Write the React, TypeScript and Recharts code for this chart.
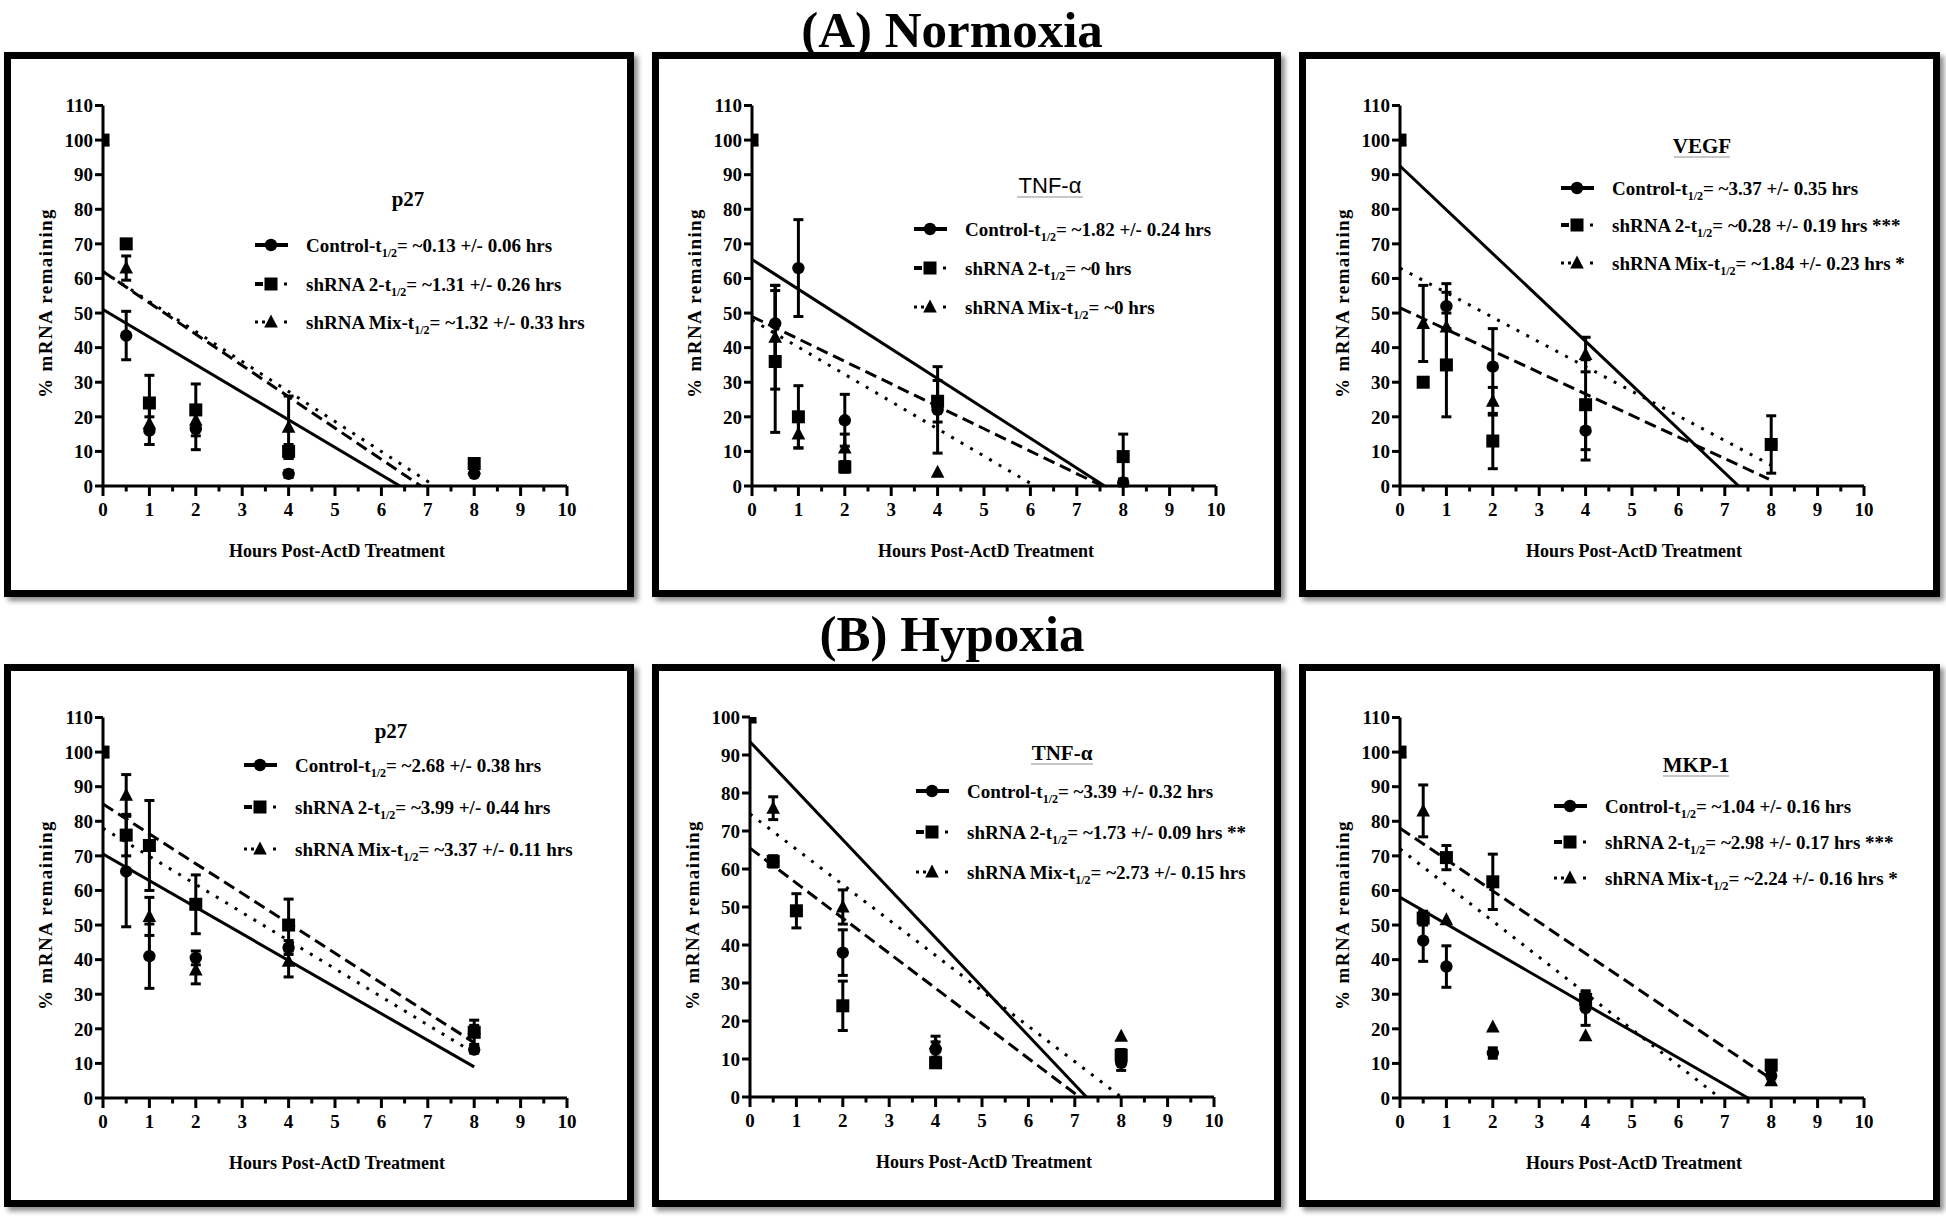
import React from "react";
import { ComposedChart, ErrorBar, Line, Scatter, XAxis, YAxis } from "recharts";

const hours = [0, 0.5, 1, 2, 4, 8];
const xTicks = [0, 0.5, 1, 1.5, 2, 2.5, 3, 3.5, 4, 4.5, 5, 5.5, 6, 6.5, 7, 7.5, 8, 8.5, 9, 9.5, 10];
const yTicks110 = [0, 10, 20, 30, 40, 50, 60, 70, 80, 90, 100, 110];
const yTicks100 = [0, 10, 20, 30, 40, 50, 60, 70, 80, 90, 100];
const seriesNames = ["Control", "shRNA 2", "shRNA Mix"];

// (A) Normoxia - p27
const normP27Ctrl = [100, 43.5, 16, 16.5, 3.5, 3.5];
const normP27CtrlErr = [0, 7, 4, 6, 1, 0.5];
const normP27Sh2 = [100, 70, 24, 22, 10, 6.5];
const normP27Sh2Err = [0, 0, 8, 7.5, 2, 1];
const normP27Mix = [100, 63, 18, 19, 17, 5];
const normP27MixErr = [0, 3.5, 6, 3, 9, 1];
const normP27CtrlFit = [[0, 51], [6.4, 0]];
const normP27Sh2Fit = [[0, 62], [6.85, 0]];
const normP27MixFit = [[0, 62], [7.15, 0]];
const normP27Half = ["~0.13 +/- 0.06 hrs", "~1.31 +/- 0.26 hrs", "~1.32 +/- 0.33 hrs"];

// (A) Normoxia - TNF-a
const normTnfCtrl = [100, 47, 63, 19, 22, 1];
const normTnfCtrlErr = [0, 11, 14, 7.5, 12.5, 0];
const normTnfSh2 = [100, 36, 20, 5.5, 24.5, 8.5];
const normTnfSh2Err = [0, 20.5, 9, 1.5, 6, 6.5];
const normTnfMix = [100, 43, 15, 11, 4, 1];
const normTnfMixErr = [0, 15, 4, 4, 0, 1];
const normTnfCtrlFit = [[0, 65.5], [7.6, 0]];
const normTnfSh2Fit = [[0, 49], [7.55, 0]];
const normTnfMixFit = [[0, 48], [6.1, 0]];
const normTnfHalf = ["~1.82 +/- 0.24 hrs", "~0 hrs", "~0 hrs"];

// (A) Normoxia - VEGF
const normVegfCtrl = [100, null, 52, 34.5, 16, 12];
const normVegfCtrlErr = [0, 0, 6.5, 11, 8.5, 0];
const normVegfSh2 = [100, 30, 35, 13, 23.5, 12];
const normVegfSh2Err = [0, 0, 15, 8, 13, 8.3];
const normVegfMix = [100, 47, 46, 24.5, 38, null];
const normVegfMixErr = [0, 11, 10, 4, 5, 0];
const normVegfCtrlFit = [[0, 92.5], [7.3, 0]];
const normVegfSh2Fit = [[0, 51.5], [7.95, 2]];
const normVegfMixFit = [[0, 63], [8, 6]];
const normVegfHalf = ["~3.37 +/- 0.35 hrs", "~0.28 +/- 0.19 hrs ***", "~1.84 +/- 0.23 hrs *"];

// (B) Hypoxia - p27
const hypP27Ctrl = [100, 65.5, 41, 40.5, 43.5, 14];
const hypP27CtrlErr = [0, 16, 9.3, 2, 2, 1];
const hypP27Sh2 = [100, 76, 73, 56, 50, 19];
const hypP27Sh2Err = [0, 6, 13, 8.5, 7.5, 3.5];
const hypP27Mix = [100, 87.5, 52.5, 37, 39.5, 20];
const hypP27MixErr = [0, 6, 5.5, 4, 4.5, 1];
const hypP27CtrlFit = [[0, 70.5], [8, 9]];
const hypP27Sh2Fit = [[0, 85], [8, 16]];
const hypP27MixFit = [[0, 78], [8, 13]];
const hypP27Half = ["~2.68 +/- 0.38 hrs", "~3.99 +/- 0.44 hrs", "~3.37 +/- 0.11 hrs"];

// (B) Hypoxia - TNF-a
const hypTnfCtrl = [100, 62, 49, 38, 12.5, 9];
const hypTnfCtrlErr = [0, 0, 0, 6, 2, 2];
const hypTnfSh2 = [100, 62, 49, 24, 9, 11];
const hypTnfSh2Err = [0, 1.5, 4.5, 6.5, 1, 1.5];
const hypTnfMix = [100, 76, 49, 50, 14, 16];
const hypTnfMixErr = [0, 3, 0, 4.5, 2, 0];
const hypTnfCtrlFit = [[0, 93.5], [7.25, 0]];
const hypTnfSh2Fit = [[0, 65.5], [7.1, 0]];
const hypTnfMixFit = [[0, 74.5], [8, 0]];
const hypTnfHalf = ["~3.39 +/- 0.32 hrs", "~1.73 +/- 0.09 hrs **", "~2.73 +/- 0.15 hrs"];

// (B) Hypoxia - MKP-1
const hypMkpCtrl = [100, 45.5, 38, 13, 26, 6.5];
const hypMkpCtrlErr = [0, 6, 6, 1.5, 5, 1];
const hypMkpSh2 = [100, 52, 69.5, 62.5, 28.5, 9.5];
const hypMkpSh2Err = [0, 2, 3.5, 8, 2, 1];
const hypMkpMix = [100, 83, 51.5, 20.5, 18, 5];
const hypMkpMixErr = [0, 7.5, 0, 0, 0, 0];
const hypMkpCtrlFit = [[0, 58], [7.5, 0]];
const hypMkpSh2Fit = [[0, 78], [8, 5.5]];
const hypMkpMixFit = [[0, 72], [6.9, 0]];
const hypMkpHalf = ["~1.04 +/- 0.16 hrs", "~2.98 +/- 0.17 hrs ***", "~2.24 +/- 0.16 hrs *"];

const SERIF = '"Liberation Serif", "Times New Roman", Times, serif';
const SANS = '"Liberation Sans", Arial, sans-serif';
const BORDER = 7;
const PLOT_W = 464;
const X_AXIS_H = 40;
const Y_AXIS_W = 60;
const TICK_FONT = 19;
const DASH = [undefined, "12 6", "3 8"];
const DRAW_ORDER = [0, 2, 1];

type Series = { vals: (number | null)[]; errs: number[]; fit: number[][] };
type Panel = {
  left: number;
  top: number;
  w: number;
  h: number;
  plotLeft: number;
  plotTop: number;
  plotBottom: number;
  yMax: number;
  gene: string;
  geneX: number;
  geneY: number;
  geneSans?: boolean;
  ruleW?: number;
  legX: number;
  legRows: number[];
  series: Series[];
  halves: string[];
};

const toPoints = (s: Series) =>
  hours
    .map((h, i) => (s.vals[i] == null ? null : { x: h, y: s.vals[i], err: s.errs[i] ? s.errs[i] : undefined }))
    .filter(Boolean);

const mk = (vals: (number | null)[], errs: number[], fit: number[][]): Series => ({ vals, errs, fit });

const panels: Panel[] = [
  {
    left: 4, top: 52, w: 630, h: 545, plotLeft: 92, plotTop: 46.5, plotBottom: 427, yMax: 110,
    gene: "p27", geneX: 397, geneY: 140, legX: 244, legRows: [186, 225, 263],
    series: [mk(normP27Ctrl, normP27CtrlErr, normP27CtrlFit), mk(normP27Sh2, normP27Sh2Err, normP27Sh2Fit), mk(normP27Mix, normP27MixErr, normP27MixFit)],
    halves: normP27Half,
  },
  {
    left: 652, top: 52, w: 629, h: 545, plotLeft: 93, plotTop: 46.5, plotBottom: 427, yMax: 110,
    gene: "TNF-α", geneX: 391, geneY: 127, geneSans: true, ruleW: 66, legX: 255, legRows: [170, 209, 248],
    series: [mk(normTnfCtrl, normTnfCtrlErr, normTnfCtrlFit), mk(normTnfSh2, normTnfSh2Err, normTnfSh2Fit), mk(normTnfMix, normTnfMixErr, normTnfMixFit)],
    halves: normTnfHalf,
  },
  {
    left: 1299, top: 52, w: 641, h: 545, plotLeft: 94, plotTop: 46.5, plotBottom: 427, yMax: 110,
    gene: "VEGF", geneX: 396, geneY: 87, ruleW: 56, legX: 255, legRows: [129, 166, 204],
    series: [mk(normVegfCtrl, normVegfCtrlErr, normVegfCtrlFit), mk(normVegfSh2, normVegfSh2Err, normVegfSh2Fit), mk(normVegfMix, normVegfMixErr, normVegfMixFit)],
    halves: normVegfHalf,
  },
  {
    left: 4, top: 664, w: 630, h: 543, plotLeft: 92, plotTop: 46.5, plotBottom: 427, yMax: 110,
    gene: "p27", geneX: 380, geneY: 60, legX: 233, legRows: [94, 136, 178],
    series: [mk(hypP27Ctrl, hypP27CtrlErr, hypP27CtrlFit), mk(hypP27Sh2, hypP27Sh2Err, hypP27Sh2Fit), mk(hypP27Mix, hypP27MixErr, hypP27MixFit)],
    halves: hypP27Half,
  },
  {
    left: 652, top: 664, w: 629, h: 543, plotLeft: 91, plotTop: 46, plotBottom: 426, yMax: 100,
    gene: "TNF-α", geneX: 403, geneY: 82, ruleW: 62, legX: 257, legRows: [120, 161, 201],
    series: [mk(hypTnfCtrl, hypTnfCtrlErr, hypTnfCtrlFit), mk(hypTnfSh2, hypTnfSh2Err, hypTnfSh2Fit), mk(hypTnfMix, hypTnfMixErr, hypTnfMixFit)],
    halves: hypTnfHalf,
  },
  {
    left: 1299, top: 664, w: 641, h: 543, plotLeft: 94, plotTop: 46.5, plotBottom: 427, yMax: 110,
    gene: "MKP-1", geneX: 390, geneY: 94, ruleW: 66, legX: 248, legRows: [135, 171, 207],
    series: [mk(hypMkpCtrl, hypMkpCtrlErr, hypMkpCtrlFit), mk(hypMkpSh2, hypMkpSh2Err, hypMkpSh2Fit), mk(hypMkpMix, hypMkpMixErr, hypMkpMixFit)],
    halves: hypMkpHalf,
  },
];

function Marker({ kind, cx, cy }: { kind: number; cx: number; cy: number }) {
  if (cx == null || cy == null) return null;
  if (kind === 0) return <circle cx={cx} cy={cy} r={6.2} fill="#000" />;
  if (kind === 1) return <rect x={cx - 6.5} y={cy - 6.5} width={13} height={13} fill="#000" />;
  return <polygon points={`${cx},${cy - 7.5} ${cx - 6.8},${cy + 5.5} ${cx + 6.8},${cy + 5.5}`} fill="#000" />;
}

function XTick(props: any) {
  const { x, y, payload } = props;
  const v = payload.value as number;
  const major = Number.isInteger(v);
  return (
    <g>
      <line x1={x} x2={x} y1={y} y2={y + (major ? 10 : 5.5)} stroke="#000" strokeWidth={3} />
      {major && (
        <text x={x} y={y + 30} textAnchor="middle" fill="#000" fontSize={TICK_FONT} fontWeight={700} fontFamily={SERIF}>
          {v}
        </text>
      )}
    </g>
  );
}

function LegendSample({ kind, x, y }: { kind: number; x: number; y: number }) {
  const mx = x + 16;
  if (kind === 0)
    return (
      <g>
        <line x1={x} x2={x + 33} y1={y} y2={y} stroke="#000" strokeWidth={4} />
        <Marker kind={0} cx={mx} cy={y} />
      </g>
    );
  if (kind === 1)
    return (
      <g>
        <rect x={x} y={y - 2} width={8} height={4} fill="#000" />
        <Marker kind={1} cx={mx} cy={y} />
        <rect x={x + 29} y={y - 1.5} width={3} height={3} fill="#000" />
      </g>
    );
  return (
    <g>
      <rect x={x} y={y - 1.5} width={3} height={3} fill="#000" />
      <rect x={x + 7} y={y - 1.5} width={3} height={3} fill="#000" />
      <Marker kind={2} cx={mx} cy={y} />
      <rect x={x + 29} y={y - 1.5} width={3} height={3} fill="#000" />
    </g>
  );
}

function DecayPanel({ p }: { p: Panel }) {
  const innerW = p.w - 2 * BORDER;
  const innerH = p.h - 2 * BORDER;
  const margin = {
    top: p.plotTop,
    right: innerW - p.plotLeft - PLOT_W,
    bottom: innerH - p.plotBottom - X_AXIS_H,
    left: p.plotLeft - Y_AXIS_W,
  };
  const yTicks = p.yMax === 100 ? yTicks100 : yTicks110;
  const txt = { fill: "#000", fontWeight: 700, fontFamily: SERIF } as const;

  return (
    <div
      style={{
        position: "absolute",
        left: p.left,
        top: p.top,
        width: innerW,
        height: innerH,
        border: `${BORDER}px solid #000`,
        boxShadow: "4px 4px 5px rgba(0,0,0,0.45)",
        background: "#fff",
      }}
    >
      <ComposedChart width={innerW} height={innerH} margin={margin}>
        <XAxis
          type="number"
          dataKey="x"
          domain={[0, 10]}
          ticks={xTicks}
          interval={0}
          tickSize={0}
          tickMargin={0}
          tickLine={false}
          axisLine={{ stroke: "#000", strokeWidth: 3 }}
          tick={<XTick />}
          height={X_AXIS_H}
          allowDataOverflow
        />
        <YAxis
          type="number"
          dataKey="y"
          domain={[0, p.yMax]}
          ticks={yTicks}
          interval={0}
          width={Y_AXIS_W}
          tickSize={8}
          tickMargin={2}
          tickLine={{ stroke: "#000", strokeWidth: 3 }}
          axisLine={{ stroke: "#000", strokeWidth: 3 }}
          tick={{ ...txt, fontSize: TICK_FONT }}
          allowDataOverflow
        />
        {p.series.map((s, i) => (
          <Line
            key={"fit" + i}
            data={s.fit.map(([x, y]) => ({ x, y }))}
            dataKey="y"
            type="linear"
            stroke="#000"
            strokeWidth={3}
            strokeDasharray={DASH[i]}
            dot={false}
            activeDot={false}
            isAnimationActive={false}
          />
        ))}
        {DRAW_ORDER.map((i) => (
          <Scatter
            key={"pts" + i}
            data={toPoints(p.series[i])}
            shape={(sp: any) => <Marker kind={i} cx={sp.cx} cy={sp.cy} />}
            isAnimationActive={false}
          >
            <ErrorBar dataKey="err" direction="y" width={5} stroke="#000" strokeWidth={3} />
          </Scatter>
        ))}
      </ComposedChart>
      <svg width={innerW} height={innerH} style={{ position: "absolute", left: 0, top: 0, pointerEvents: "none" }}>
        <text
          transform={`translate(${p.plotLeft - 58}, 244) rotate(-90)`}
          textAnchor="middle"
          dominantBaseline="central"
          fontSize={19}
          letterSpacing={1.4}
          {...txt}
        >
          % mRNA remaining
        </text>
        <text x={p.plotLeft + PLOT_W / 2 + 2} y={p.plotBottom + 71} textAnchor="middle" fontSize={18} {...txt}>
          Hours Post-ActD Treatment
        </text>
        <text
          x={p.geneX}
          y={p.geneY + 7}
          textAnchor="middle"
          fontSize={p.geneSans ? 22 : 21}
          fill="#000"
          fontWeight={p.geneSans ? 400 : 700}
          fontFamily={p.geneSans ? SANS : SERIF}
        >
          {p.gene}
        </text>
        {p.ruleW && (
          <line
            x1={p.geneX - p.ruleW / 2}
            x2={p.geneX + p.ruleW / 2}
            y1={p.geneY + 11}
            y2={p.geneY + 11}
            stroke="#b5b5b5"
            strokeWidth={1.5}
          />
        )}
        {p.legRows.map((row, i) => (
          <g key={"leg" + i}>
            <LegendSample kind={i} x={p.legX} y={row} />
            <text x={p.legX + 51} y={row + 6.5} fontSize={19} {...txt}>
              {seriesNames[i]}-t
              <tspan fontSize={12} dy={5}>
                1/2
              </tspan>
              <tspan dy={-5}>= {p.halves[i]}</tspan>
            </text>
          </g>
        ))}
      </svg>
    </div>
  );
}

export default function App() {
  return (
    <div style={{ position: "absolute", left: 0, top: 0, width: 1946, height: 1222, background: "#fff", overflow: "hidden" }}>
      <svg width={1946} height={1222} style={{ position: "absolute", left: 0, top: 0 }}>
        <text x={952} y={47} textAnchor="middle" fontSize={51} fontWeight={700} fontFamily={SERIF} fill="#000">
          (A) Normoxia
        </text>
        <text x={952} y={651} textAnchor="middle" fontSize={51} fontWeight={700} fontFamily={SERIF} fill="#000">
          (B) Hypoxia
        </text>
      </svg>
      {panels.map((p, i) => (
        <DecayPanel key={i} p={p} />
      ))}
    </div>
  );
}
